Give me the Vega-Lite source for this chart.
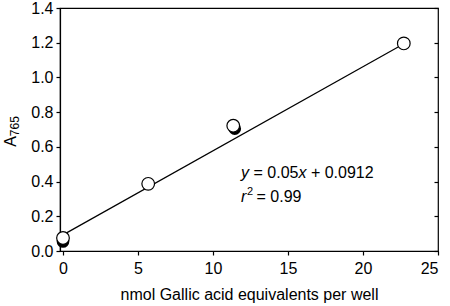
{
  "$schema": "https://vega.github.io/schema/vega-lite/v6.json",
  "width": 378,
  "height": 243,
  "autosize": "none",
  "padding": {"left": 60, "top": 8, "right": 12, "bottom": 55},
  "background": "white",
  "config": {
    "view": {"stroke": "black", "strokeWidth": 1.2},
    "font": "Liberation Sans",
    "axis": {
      "domainColor": "black", "tickColor": "black", "labelColor": "black", "titleColor": "black",
      "labelFont": "Liberation Sans", "titleFont": "Liberation Sans",
      "labelFontSize": 16, "titleFontSize": 16, "titleFontWeight": "normal",
      "grid": false, "domainWidth": 1.2, "tickWidth": 1.2, "tickSize": 4
    },
    "text": {"font": "Liberation Sans", "color": "black", "align": "left", "baseline": "alphabetic"}
  },
  "datasets": {
    "fit": [{"x": 0, "y": 0.093}, {"x": 22.7, "y": 1.193}],
    "solid": [{"x": 0, "y": 0.055}, {"x": 11.45, "y": 0.705}],
    "open": [
      {"x": 0, "y": 0.075},
      {"x": 5.68, "y": 0.387},
      {"x": 11.35, "y": 0.722},
      {"x": 22.72, "y": 1.196}
    ],
    "one": [{}]
  },
  "resolve": {"axis": {"y": "independent", "x": "independent"}},
  "layer": [
    {
      "data": {"name": "fit"},
      "mark": {"type": "line", "color": "black", "strokeWidth": 1.2},
      "encoding": {
        "x": {"field": "x", "type": "quantitative",
              "scale": {"domain": [-0.2, 25], "nice": false, "zero": false},
              "axis": {"values": [0, 5, 10, 15, 20, 25], "title": "nmol Gallic acid equivalents per well", "labelPadding": 5, "titlePadding": 10}},
        "y": {"field": "y", "type": "quantitative",
              "scale": {"domain": [0, 1.4], "nice": false, "zero": false},
              "axis": {"values": [0, 0.2, 0.4, 0.6, 0.8, 1.0, 1.2, 1.4], "format": ".1f", "title": null, "labelPadding": 3}}
      }
    },
    {
      "data": {"name": "fit"},
      "mark": {"type": "line", "opacity": 0},
      "encoding": {
        "x": {"field": "x", "type": "quantitative", "axis": null},
        "y": {"field": "y", "type": "quantitative",
              "axis": {"orient": "right", "values": [0, 0.2, 0.4, 0.6, 0.8, 1.0, 1.2, 1.4], "labels": false, "title": null, "domain": false, "tickSize": -4}}
      }
    },
    {
      "data": {"name": "solid"},
      "mark": {"type": "circle", "color": "black", "size": 160, "opacity": 1},
      "encoding": {
        "x": {"field": "x", "type": "quantitative", "axis": null},
        "y": {"field": "y", "type": "quantitative", "axis": null}
      }
    },
    {
      "data": {"name": "open"},
      "mark": {"type": "circle", "fill": "white", "stroke": "black", "strokeWidth": 1.2, "size": 160, "opacity": 1},
      "encoding": {
        "x": {"field": "x", "type": "quantitative", "axis": null},
        "y": {"field": "y", "type": "quantitative", "axis": null}
      }
    },
    {
      "data": {"name": "one"},
      "mark": {"type": "text", "text": "A", "fontSize": 16, "angle": 270},
      "encoding": {"x": {"datum": -3.15, "type": "quantitative", "axis": null}, "y": {"datum": 0.6, "type": "quantitative", "axis": null}}
    },
    {
      "data": {"name": "one"},
      "mark": {"type": "text", "text": "765", "fontSize": 12, "angle": 270, "dx": 10.7, "dy": 3},
      "encoding": {"x": {"datum": -3.15, "type": "quantitative", "axis": null}, "y": {"datum": 0.6, "type": "quantitative", "axis": null}}
    },
    {
      "data": {"name": "one"},
      "mark": {"type": "text", "text": "y", "fontStyle": "italic", "fontSize": 16},
      "encoding": {"x": {"datum": 11.87, "type": "quantitative", "axis": null}, "y": {"datum": 0.419, "type": "quantitative", "axis": null}}
    },
    {
      "data": {"name": "one"},
      "mark": {"type": "text", "text": "= 0.05", "fontSize": 16, "dx": 12.45},
      "encoding": {"x": {"datum": 11.87, "type": "quantitative", "axis": null}, "y": {"datum": 0.419, "type": "quantitative", "axis": null}}
    },
    {
      "data": {"name": "one"},
      "mark": {"type": "text", "text": "x", "fontStyle": "italic", "fontSize": 16, "dx": 57.4},
      "encoding": {"x": {"datum": 11.87, "type": "quantitative", "axis": null}, "y": {"datum": 0.419, "type": "quantitative", "axis": null}}
    },
    {
      "data": {"name": "one"},
      "mark": {"type": "text", "text": "+ 0.0912", "fontSize": 16, "dx": 69.85},
      "encoding": {"x": {"datum": 11.87, "type": "quantitative", "axis": null}, "y": {"datum": 0.419, "type": "quantitative", "axis": null}}
    },
    {
      "data": {"name": "one"},
      "mark": {"type": "text", "text": "r", "fontStyle": "italic", "fontSize": 16},
      "encoding": {"x": {"datum": 11.87, "type": "quantitative", "axis": null}, "y": {"datum": 0.284, "type": "quantitative", "axis": null}}
    },
    {
      "data": {"name": "one"},
      "mark": {"type": "text", "text": "2", "fontSize": 11, "dx": 6, "dy": -7},
      "encoding": {"x": {"datum": 11.87, "type": "quantitative", "axis": null}, "y": {"datum": 0.284, "type": "quantitative", "axis": null}}
    },
    {
      "data": {"name": "one"},
      "mark": {"type": "text", "text": "= 0.99", "fontSize": 16, "dx": 15.5},
      "encoding": {"x": {"datum": 11.87, "type": "quantitative", "axis": null}, "y": {"datum": 0.284, "type": "quantitative", "axis": null}}
    }
  ]
}
